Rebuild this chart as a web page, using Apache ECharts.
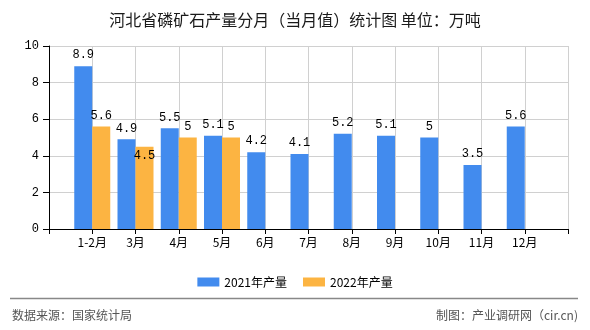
<!DOCTYPE html>
<html>
<head>
<meta charset="utf-8">
<script src="https://cdn.jsdelivr.net/npm/echarts@6/dist/echarts.min.js"></script>
<style>
html,body{margin:0;padding:0;background:#fff;}
#c{width:590px;height:330px;}
</style>
</head>
<body>
<div id="c"></div>
<script>
var categories = ['1-2月','3月','4月','5月','6月','7月','8月','9月','10月','11月','12月'];
var values2021 = [8.9, 4.9, 5.5, 5.1, 4.2, 4.1, 5.2, 5.1, 5, 3.5, 5.6];
var values2022 = [5.6, 4.5, 5, 5];
var seriesNames = ['2021年产量', '2022年产量'];
var yTicks = [0, 2, 4, 6, 8, 10];

var CN = '"Noto Sans CJK SC", "Noto Sans", sans-serif';
var MONO = '"Liberation Mono", "DejaVu Sans Mono", monospace';

// pad with an empty slot at each end so the month points sit on ticks
var axisCats = [''].concat(categories, ['']);
function pad(arr) {
  var out = ['-'];
  for (var i = 0; i < categories.length; i++) {
    out.push(i < arr.length ? arr[i] : '-');
  }
  out.push('-');
  return out;
}
var d2021 = pad(values2021);
var d2022 = pad(values2022).map(function (v, i) {
  // label of the 3月 value sits inside the bar in the reference
  if (i === 2) return { value: v, label: { position: 'insideTop', distance: 3 } };
  return v;
});

var chart = echarts.init(document.getElementById('c'));
chart.setOption({
  animation: false,
  backgroundColor: '#fff',
  title: {
    text: '河北省磷矿石产量分月（当月值）统计图 单位：万吨',
    left: 'center',
    top: 7,
    textStyle: { fontFamily: CN, fontSize: 16, fontWeight: 'normal', color: '#1a1a1a' }
  },
  legend: {
    data: seriesNames,
    left: 'center',
    top: 271,
    itemWidth: 22,
    itemHeight: 9,
    itemGap: 16,
    icon: 'rect',
    textStyle: { fontFamily: CN, fontSize: 12, color: '#000' }
  },
  grid: { left: 49, right: 22, top: 46, bottom: 101, containLabel: false },
  xAxis: {
    type: 'category',
    data: axisCats,
    boundaryGap: false,
    axisLine: { lineStyle: { color: '#000', width: 1 } },
    axisTick: { show: true, length: 5, interval: 0, lineStyle: { color: '#000' } },
    axisLabel: { interval: 0, margin: 7, fontFamily: CN, fontSize: 12, color: '#000' },
    splitLine: { show: true, interval: 0, lineStyle: { color: '#d0d0d0', width: 1 } }
  },
  yAxis: {
    type: 'value',
    min: yTicks[0],
    max: yTicks[yTicks.length - 1],
    interval: 2,
    axisLine: { show: true, lineStyle: { color: '#000', width: 1 } },
    axisTick: { show: true, length: 6, lineStyle: { color: '#000' } },
    axisLabel: { margin: 10, fontFamily: MONO, fontSize: 12, color: '#000' },
    splitLine: { show: true, lineStyle: { color: '#d0d0d0', width: 1 } }
  },
  series: [
    {
      name: seriesNames[0],
      type: 'bar',
      data: d2021,
      barWidth: 18,
      barGap: '0%',
      itemStyle: { color: '#428BEE' },
      label: { show: true, position: 'top', distance: 5, fontFamily: MONO, fontSize: 12, color: '#000' }
    },
    {
      name: seriesNames[1],
      type: 'bar',
      data: d2022,
      barWidth: 18,
      barGap: '0%',
      itemStyle: { color: '#FCB442' },
      label: { show: true, position: 'top', distance: 5, fontFamily: MONO, fontSize: 12, color: '#000' }
    }
  ],
  graphic: [
    {
      type: 'line',
      shape: { x1: 10, y1: 298.5, x2: 578, y2: 298.5 },
      style: { stroke: '#888', lineWidth: 1.5 },
      silent: true
    },
    {
      type: 'text',
      left: 12,
      top: 309,
      style: { text: '数据来源：国家统计局', font: '12px ' + CN, fill: '#555' }
    },
    {
      type: 'text',
      right: 12,
      top: 309,
      style: { text: '制图：产业调研网（cir.cn)', font: '12px ' + CN, fill: '#555' }
    }
  ]
});
</script>
</body>
</html>
